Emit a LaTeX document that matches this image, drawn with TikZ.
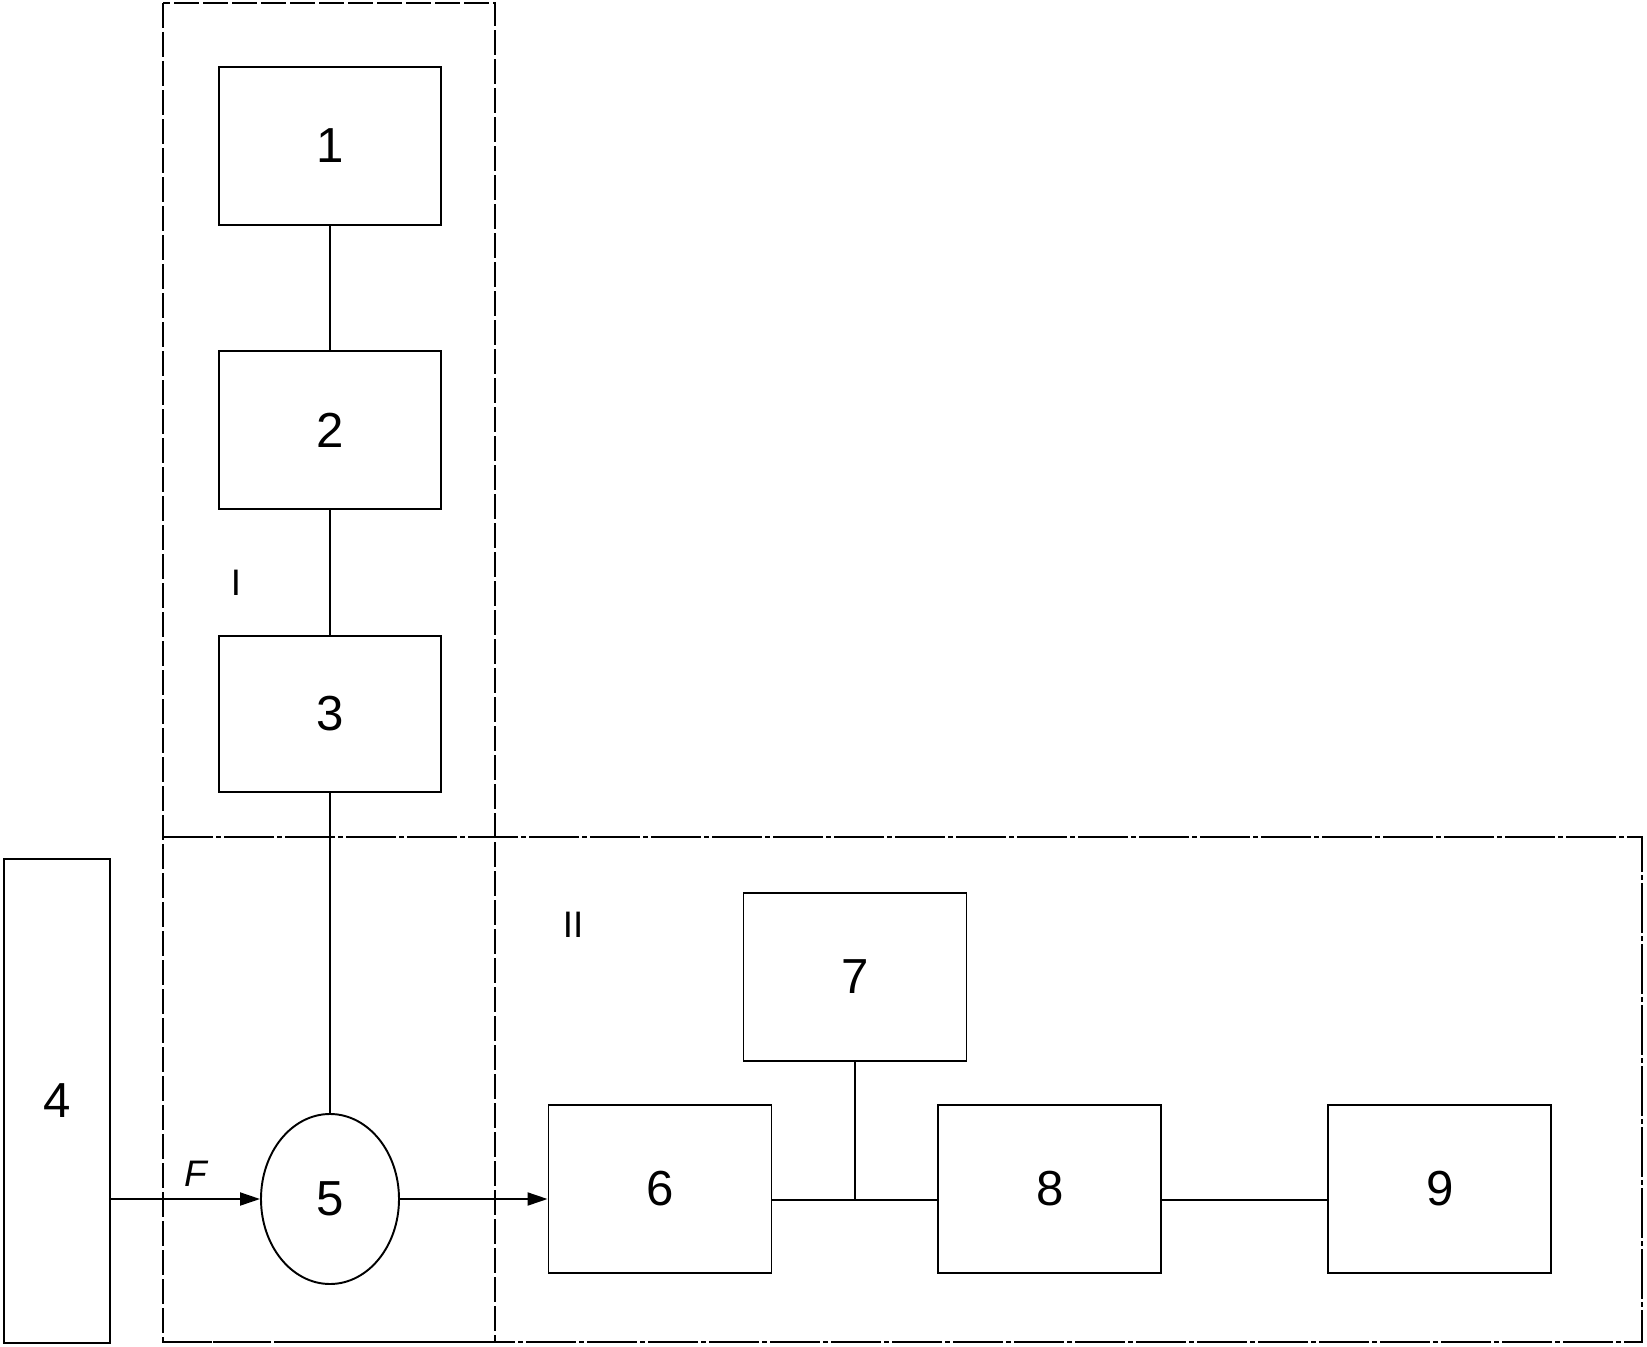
\documentclass[tikz,border=0pt]{standalone}
\usepackage{fontspec}
\setmainfont{Liberation Sans}
\usetikzlibrary{arrows.meta,positioning,shapes.geometric}

\begin{document}
\begin{tikzpicture}[
    x=0.2mm,y=-0.2mm,
    node distance=2.49cm,
    every path/.style={line width=1.1pt},
    box/.style={draw,line width=1.1pt,minimum width=4.44cm,minimum height=3.16cm,
      inner sep=0pt,font=\fontsize{28}{34}\selectfont},
    wbox/.style={box,minimum width=4.46cm,minimum height=3.36cm},
    lbl/.style={inner sep=0pt,font=\fontsize{21}{25}\selectfont},
    link/.style={line width=1.1pt},
    arrow/.style={-{Triangle[length=4mm,width=2.6mm]},line width=1.1pt},
    frameI/.style={line width=1.1pt,dash pattern=on 5mm off 0.8mm},
    frameII/.style={line width=1.1pt,dash pattern=on 10mm off 0.6mm on 1mm off 0.6mm}
  ]
    \useasboundingbox (0,0) rectangle (1647,1347);
    % frames I and II
    \draw[frameI] (163,3) rectangle (495,1342);
    \draw[frameII] (163,837) -- (1642,837) -- (1642,1342) -- (163,1342);
    \node[lbl] (labI) at (236,583) {I};
    \node[lbl] (labII) at (573,925) {II};
    % chain 1-2-3
    \node[box] (b1) at (330,146) {1};
    \node[box,below=of b1] (b2) {2};
    \node[box,below=of b2,minimum height=3.12cm] (b3) {3};
    \node[box,minimum width=2.12cm,minimum height=9.68cm] (b4) at (57,1101) {4};
    \node[ellipse,draw,line width=1.1pt,inner sep=0pt,minimum width=2.76cm,
      minimum height=3.4cm,font=\fontsize{28}{34}\selectfont] (b5) at (330,1199) {5};
    \node[wbox] (b6) at (660,1189) {6};
    \node[wbox] (b7) at (855,977) {7};
    \node[wbox,right=3.3cm of b6] (b8) {8};
    \node[wbox,right=3.3cm of b8] (b9) {9};
    \node[lbl,font=\fontsize{21}{25}\selectfont\itshape] (force) at (196,1174) {F};
    \coordinate (bus) at (b7.south |- 0,1200);
    \draw[link] (b1) -- (b2);
    \draw[link] (b2) -- (b3);
    \draw[link] (b3) -- (b5);
    \draw[link] (b7) -- (bus);
    \draw[link] (b6.east |- bus) -- (b8.west |- bus);
    \draw[link] (b8.east |- bus) -- (b9.west |- bus);
    \draw[arrow] (b4.east |- b5) -- (b5);
    \draw[arrow] (b5) -- (b6.west |- b5);
  \end{tikzpicture}
\end{document}
